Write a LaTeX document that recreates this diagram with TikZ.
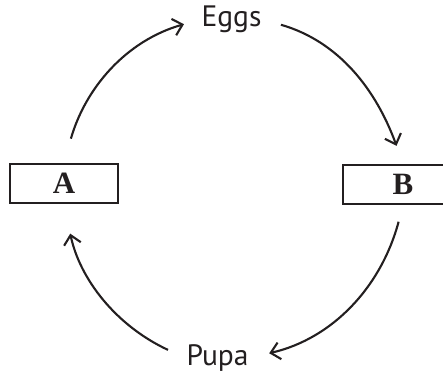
\documentclass[tikz,border=0pt]{standalone}
\usepackage{fontspec}
\setmainfont{Liberation Serif}
\newfontfamily\stagefont{PT Sans}
\usetikzlibrary{arrows.meta}
\definecolor{ink}{HTML}{231F20}
\begin{document}
\begin{tikzpicture}[
    x=1pt, y=1pt,
    box/.style={draw=ink, line width=2.6pt, minimum height=39pt, inner sep=0pt, text=ink,
      font=\fontsize{31}{33}\selectfont\bfseries},
    stage/.style={inner sep=2pt, text=ink, anchor=base, font=\fontsize{29.5}{31}\selectfont\stagefont},
    cyc/.style={draw=ink, line width=2.1pt, -{Straight Barb[length=9pt,width=17pt]}}
  ]
    \clip (0,0) rectangle (443,377);
    \node[box, minimum width=108pt] (A) at (64, 193.5) {A};
    \node[box, minimum width=120pt] (B) at (403, 192.5) {B};
    \node[stage] (Eggs) at (231.5, 350) {Eggs};
    \node[stage] (Pupa) at (217.5, 12) {Pupa};
    \draw[cyc, shorten <=25pt, shorten >=16pt] (A.north) to[out=74, in=196] (Eggs.west);
    \draw[cyc, shorten <=18pt, shorten >=19pt] (Eggs.east) to[out=-16, in=110] (B.north);
    \draw[cyc, shorten <=17pt, shorten >=19pt] (B.south) to[out=-105, in=13] (Pupa.east);
    \draw[cyc, shorten <=18pt, shorten >=30pt] (Pupa.west) to[out=155, in=-78] (A.south);
  \end{tikzpicture}
\end{document}
